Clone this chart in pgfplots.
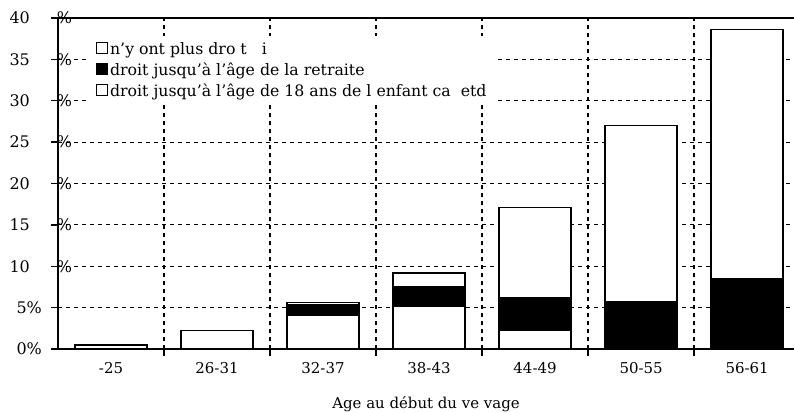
\documentclass[border=0pt]{standalone}
\usepackage{pgfplots}
\pgfplotsset{compat=1.18}
\usepackage{fontspec}
\setmainfont{DejaVu Serif}
\begin{document}
\begin{tikzpicture}
\useasboundingbox (-58bp,-64bp) rectangle (736bp,349bp);
\begin{axis}[
  scale only axis, width=736bp, height=331bp,
  xmin=-0.5, xmax=6.443, ymin=0, ymax=40,
  axis x line=box, axis y line=left, separate axis lines,
  axis line style={-, line width=1.6bp, black},
  ybar stacked, bar width=0.68,
  xtick={0.5,1.5,2.5,3.5,4.5,5.5}, xticklabels={},
  xtick pos=left, ytick pos=left,
  tick align=outside, major tick length=7bp,
  tick style={line width=1.4bp, black},
  xmajorgrids, ymajorgrids,
  major grid style={dash pattern=on 4bp off 4bp, line width=1.1bp, black},
  extra x ticks={0,1,2,3,4,5,6},
  extra x tick labels={-25,26-31,32-37,38-43,44-49,50-55,56-61},
  extra x tick style={major tick length=0pt, grid=none,
     tick label style={font=\fontsize{15}{17}\selectfont, yshift=-10bp}},
  ytick={0,5,10,15,20,25,30,35,40},
  yticklabels={0\%,5\%,
    {10\hspace{12bp}\rlap{\hspace{15bp}\%}},
    {15\hspace{12bp}\rlap{\hspace{15bp}\%}},
    {20\hspace{12bp}\rlap{\hspace{15bp}\%}},
    {25\hspace{12bp}\rlap{\hspace{15bp}\%}},
    {30\hspace{12bp}\rlap{\hspace{15bp}\%}},
    {35\hspace{12bp}\rlap{\hspace{15bp}\%}},
    {40\hspace{12bp}\rlap{\hspace{15bp}\%}}},
  yticklabel style={anchor=east, inner sep=0pt, xshift=-9bp, font=\fontsize{16}{18}\selectfont},
  xlabel={Age au début du ve vage},
  xlabel style={font=\fontsize{15}{17}\selectfont, yshift=-9bp},
  reverse legend,
  legend style={at={(rel axis cs:0.0435,0.945)}, anchor=north west, draw=none, fill=white,
     font=\fontsize{15.8}{18}\selectfont, row sep=3bp, inner xsep=6bp, inner ysep=4bp},
  legend cell align=left,
  legend image code/.code={\draw[#1, line width=0.9bp] (0bp,-4.5bp) rectangle (11bp,6.5bp);},
]
\addplot[fill=white, draw=black, line width=1.3bp] coordinates {(0,0.5) (1,2.2) (2,4.1) (3,5.1) (4,2.3) (5,0) (6,0)};
\addlegendentry{droit jusqu’à l’âge de 18 ans de l enfant ca\ \ etd}
\addplot[fill=black, draw=black, line width=1.3bp] coordinates {(0,0) (1,0) (2,1.3) (3,2.4) (4,3.9) (5,5.7) (6,8.5)};
\addlegendentry{droit jusqu’à l’âge de la retraite}
\addplot[fill=white, draw=black, line width=1.3bp] coordinates {(0,0) (1,0) (2,0.2) (3,1.7) (4,10.9) (5,21.3) (6,30.1)};
\addlegendentry{n’y ont plus dro t\ \ \ i}
\end{axis}
\end{tikzpicture}
\end{document}
